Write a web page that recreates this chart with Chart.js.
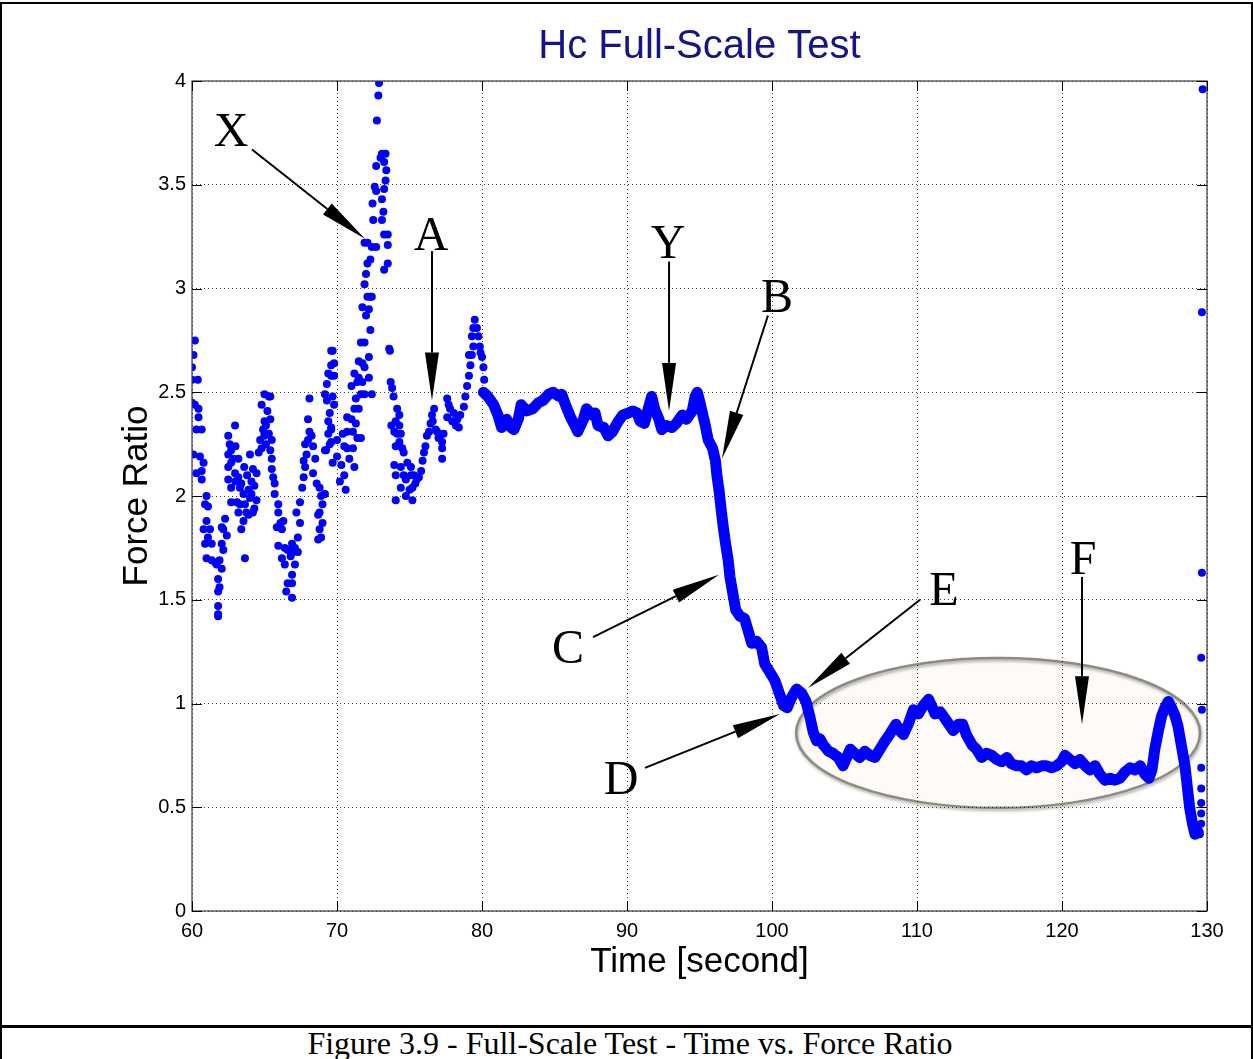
<!DOCTYPE html>
<html>
<head>
<meta charset="utf-8">
<script src="https://cdn.jsdelivr.net/npm/chart.js@4.4.1/dist/chart.umd.min.js"></script>
<style>
body { margin: 0; background: #fff; }
#page { position: relative; width: 1253px; height: 1059px; overflow: hidden; }
#frame { position: absolute; left: 0; top: 2px; width: 1249px; height: 1021px; border: 2px solid #000; border-bottom-width: 3px; }
#capbox { position: absolute; left: 0; top: 1026px; width: 1249px; height: 40px; border-left: 2px solid #000; border-right: 2px solid #000; }
#caption { position: absolute; left: 0; top: 1025px; width: 1260px; text-align: center; font: 32px "Liberation Serif", "Times New Roman", serif; line-height: 36px; }
#cv { position: absolute; left: 0; top: 0; }
</style>
</head>
<body>
<div id="page">
  <div id="frame"></div>
  <div id="capbox"></div>
  <canvas id="cv" width="1253" height="1025"></canvas>
  <div id="caption">Figure 3.9 - Full-Scale Test - Time vs. Force Ratio</div>
</div>
<script>
// tick values
const timeTicks = [60, 70, 80, 90, 100, 110, 120, 130];
const ratioTicks = [0, 0.5, 1, 1.5, 2, 2.5, 3, 3.5, 4];

// scattered samples 60 - 80 s  [time, force ratio]
const noisyPoints = [
 [60.2,2.75],[60.1,2.68],[60.0,2.62],[60.0,2.56],[60.4,2.56],[60.0,2.45],[60.2,2.44],[60.45,2.42],[60.45,2.38],[60.3,2.32],
 [60.67,2.32],[60.1,2.20],[60.55,2.19],[60.8,2.16],[60.3,2.11],[60.67,2.12],[60.67,2.08],
 [61.0,2.00],[60.9,1.96],[61.1,1.95],[61.0,1.88],[60.8,1.84],[61.24,1.84],[61.1,1.80],[61.36,1.77],[60.9,1.77],[61.0,1.70],
 [61.36,1.69],[61.6,1.68],[61.7,1.67],[61.8,1.60],[61.9,1.56],[61.8,1.54],[61.8,1.47],[61.8,1.43],[61.8,1.42],[62.05,1.65],
 [61.9,1.69],[62.16,1.74],[62.05,1.77],[62.4,1.81],[62.05,1.85],[62.28,1.89],[62.16,1.84],
 [62.5,2.29],[62.97,2.34],[62.7,2.22],[62.5,2.20],[62.85,2.18],[62.5,2.14],[62.7,2.16],[62.97,2.11],[62.5,2.08],[63.2,2.09],
 [63.0,2.07],[62.7,2.04],[63.3,2.04],[63.4,2.06],[63.55,2.01],[63.1,1.97],[63.3,1.96],[62.7,1.97],[63.65,1.96],[63.2,1.92],
 [63.75,1.92],[63.55,1.88],[63.4,1.84],[63.65,1.70],[64.0,2.20],[64.2,2.13],[64.45,2.11],[64.1,2.07],[64.3,2.05],[64.1,2.01],
 [64.45,1.98],[64.3,1.94],[63.9,1.91],[64.2,1.92],[62.6,2.25],[63.0,2.24],[63.2,2.18],[63.6,2.14],[63.8,2.10],[63.9,2.03],[64.0,1.99],
 [64.6,2.21],[64.8,2.23],[64.7,2.27],[65.0,2.29],[64.9,2.32],[65.1,2.34],[65.0,2.36],[65.3,2.30],[65.5,2.27],[65.1,2.25],
 [64.8,2.44],[65.0,2.49],[65.3,2.48],[65.4,2.48],[65.2,2.41],[65.4,2.37],[65.0,2.30],
 [65.4,2.22],[65.5,2.18],[65.5,2.13],[65.6,2.09],[65.7,2.06],[65.7,2.01],[65.95,1.96],[65.95,1.92],[66.1,1.87],[66.3,1.88],
 [65.85,1.85],[66.2,1.84],[65.95,1.76],[66.4,1.75],[66.2,1.70],[66.4,1.67],[66.6,1.74],[66.9,1.77],[67.1,1.75],[66.8,1.71],
 [67.0,1.73],[66.6,1.58],[66.9,1.58],[66.5,1.54],[66.9,1.51],[66.9,1.62],[67.1,1.67],[67.3,1.73],
 [67.3,1.80],[67.45,1.87],[67.2,1.92],[67.45,1.97],[67.6,2.04],[67.7,2.09],[67.8,2.14],[67.7,2.17],[67.9,2.20],[67.8,2.25],
 [68.0,2.27],[68.1,2.31],[68.0,2.37],[68.25,2.29],[68.1,2.47],
 [68.35,2.24],[68.5,2.18],[68.35,2.11],[68.6,2.06],[68.8,2.04],[68.9,2.00],[69.0,1.96],[68.8,1.92],[68.7,1.91],[69.0,1.87],
 [68.8,1.84],[68.7,1.79],[68.9,1.80],
 [69.17,2.01],[69.17,2.49],[69.3,2.54],[69.4,2.59],[69.6,2.58],[69.6,2.63],[69.6,2.70],[69.3,2.46],[69.5,2.40],[69.4,2.36],
 [69.6,2.32],[69.4,2.30],[69.17,2.22],[69.7,2.16],[69.5,2.25],[69.8,2.58],[69.8,2.44],[69.6,2.33],[69.25,2.22],[69.6,2.26],
 [69.7,2.70],[69.8,2.64],[69.7,2.48],
 [70.0,2.19],[70.3,2.15],[70.5,2.10],[70.6,2.03],[70.2,2.07],[70.0,2.27],[70.4,2.30],[70.7,2.23],[70.7,2.31],[70.5,2.24],
 [71.1,2.31],[71.1,2.23],[70.85,2.18],[71.2,2.14],[71.0,2.37],[70.7,2.38],[71.2,2.42],[71.3,2.35],[71.4,2.28],[71.65,2.28],
 [71.5,2.42],[71.3,2.47],[71.0,2.53],[71.4,2.55],[71.5,2.57],[71.75,2.64],[71.5,2.65],[71.9,2.62],[71.9,2.49],[71.75,2.55],
 [71.65,2.74],[71.9,2.74],[72.0,2.87],[71.75,2.91],[72.2,2.90],[72.1,2.96],[71.9,3.02],[72.0,3.07],[72.1,3.12],[72.3,3.14],
 [71.9,3.22],[72.1,3.22],[72.4,3.20],[72.7,3.20],[72.3,2.80],[72.4,2.96],[72.3,2.96],[72.2,2.67],[72.2,2.57],[72.4,2.49],
 [71.65,2.49],[71.2,2.59],
 [72.5,3.33],[72.45,3.41],[72.7,3.47],[72.6,3.49],[72.7,3.59],[73.0,3.63],[73.1,3.65],[73.35,3.65],[73.25,3.61],[73.4,3.57],
 [73.35,3.52],[73.25,3.48],[73.1,3.43],[73.2,3.37],[73.1,3.33],[73.25,3.26],[73.5,3.26],[73.5,3.21],[73.5,3.12],[73.25,3.09],
 [72.75,3.81],[72.85,3.93],[72.9,3.99],
 [73.6,2.71],[73.65,2.70],[73.7,2.55],[73.8,2.52],[73.9,2.48],[74.15,2.42],[74.3,2.39],[74.05,2.36],[74.3,2.34],[73.75,2.34],
 [73.95,2.31],[74.15,2.30],[74.4,2.30],[74.05,2.24],[74.3,2.26],[74.5,2.23],[74.6,2.21],[73.95,2.15],[74.4,2.14],[74.05,2.10],
 [74.05,1.98],[74.4,2.04],[74.85,2.16],[75.1,2.14],[74.6,2.10],[74.75,2.08],[75.1,2.10],[75.3,2.10],[75.4,2.06],[75.2,2.04],
 [75.0,2.03],[74.75,2.00],[75.2,1.98],[75.5,2.08],[75.65,2.09],[75.8,2.12],
 [75.9,2.17],[76.0,2.21],[76.1,2.24],[76.2,2.29],[76.35,2.31],[76.45,2.35],[76.55,2.39],[76.7,2.42],[76.6,2.36],[76.8,2.32],
 [76.9,2.31],[77.1,2.29],[77.25,2.26],[77.35,2.30],[77.25,2.23],[77.25,2.18],[77.0,2.28],
 [77.6,2.47],[77.7,2.44],[77.6,2.38],[77.95,2.36],[78.2,2.34],[78.3,2.37],[78.5,2.39],[78.4,2.33],[77.8,2.42],[78.05,2.40],
 [78.75,2.43],[78.85,2.48],[78.97,2.53],[79.1,2.58],[79.2,2.63],[79.1,2.68],[79.3,2.77],[79.4,2.81],[79.5,2.85],[79.65,2.81],
 [79.75,2.77],[79.85,2.72],[80.0,2.67],[79.9,2.69],[80.1,2.62],[80.15,2.56],[79.4,2.72],[79.3,2.68]
];

// dense trace 80 - 129.4 s, drawn as a thick line
const tracePoints = [
 [80.1,2.50],[80.4,2.48],[80.8,2.44],[81.1,2.39],[81.35,2.33],[81.7,2.37],[82.0,2.33],[82.2,2.32],[82.5,2.37],[82.7,2.44],
 [83.1,2.41],[83.5,2.42],[83.9,2.45],[84.2,2.46],[84.6,2.49],[84.9,2.50],[85.3,2.48],[85.5,2.49],[85.7,2.45],[86.1,2.38],
 [86.4,2.34],[86.6,2.31],[87.0,2.37],[87.2,2.42],[87.6,2.39],[87.8,2.40],[88.0,2.34],[88.4,2.33],[88.7,2.29],[89.0,2.31],
 [89.4,2.36],[89.7,2.39],[90.1,2.40],[90.4,2.41],[90.7,2.40],[90.9,2.36],[91.2,2.35],[91.5,2.43],[91.7,2.48],[91.9,2.42],
 [92.2,2.37],[92.4,2.32],[92.7,2.34],[93.1,2.33],[93.4,2.35],[93.8,2.39],[94.1,2.37],[94.5,2.41],[94.7,2.48],[94.85,2.50],
 [95.0,2.46],[95.2,2.40],[95.4,2.34],[95.6,2.27],[95.9,2.23],[96.1,2.17],[96.2,2.10],[96.36,2.02],[96.5,1.93],[96.64,1.85],
 [96.8,1.77],[96.98,1.69],[97.1,1.61],[97.3,1.53],[97.5,1.45],[97.8,1.42],[98.1,1.41],[98.36,1.35],[98.6,1.29],[98.94,1.30],
 [99.28,1.27],[99.5,1.19],[99.86,1.15],[100.2,1.11],[100.5,1.05],[100.8,0.99],[101.05,0.98],[101.35,1.03],[101.7,1.07],[102.04,1.05],
 [102.34,1.01],[102.6,0.94],[102.85,0.86],[103.08,0.82],[103.3,0.83],[103.54,0.80],[103.9,0.77],[104.2,0.76],[104.57,0.74],[104.9,0.70],
 [105.15,0.74],[105.4,0.78],[105.7,0.76],[106.05,0.74],[106.4,0.77],[106.75,0.75],[107.1,0.74],[107.45,0.78],[107.8,0.82],[108.1,0.85],
 [108.55,0.90],[108.8,0.87],[109.06,0.85],[109.4,0.90],[109.75,0.97],[110.1,0.95],[110.43,0.99],[110.8,1.02],[111.0,0.99],[111.24,0.95],
 [111.6,0.96],[111.8,0.94],[112.2,0.90],[112.5,0.87],[112.85,0.90],[113.15,0.90],[113.4,0.85],[113.8,0.80],[114.1,0.78],[114.46,0.74],
 [114.8,0.76],[115.15,0.75],[115.5,0.73],[115.84,0.72],[116.2,0.74],[116.5,0.71],[116.87,0.70],[117.2,0.70],[117.56,0.68],[117.9,0.70],
 [118.25,0.69],[118.6,0.70],[118.94,0.70],[119.3,0.69],[119.63,0.70],[119.97,0.72],[120.2,0.75],[120.55,0.73],[120.9,0.71],[121.24,0.73],
 [121.6,0.70],[121.93,0.68],[122.28,0.70],[122.6,0.66],[122.96,0.63],[123.3,0.64],[123.65,0.63],[124.0,0.64],[124.34,0.67],[124.7,0.69],
 [125.03,0.68],[125.4,0.70],[125.7,0.66],[126.0,0.64],[126.2,0.68],[126.4,0.78],[126.65,0.87],[126.87,0.94],[127.1,0.98],[127.33,1.01],
 [127.56,0.98],[127.8,0.94],[128.0,0.89],[128.25,0.79],[128.48,0.70],[128.64,0.60],[128.8,0.50],[129.0,0.42],[129.17,0.37],[129.4,0.38]
];

// lone points at the right edge
const edgePoints = [
 [129.7,3.96],[129.65,2.885],[129.65,1.63],[129.6,1.22],[129.65,0.97],[129.6,0.69],[129.6,0.59],[129.6,0.52],[129.6,0.47],[129.6,0.42],[129.5,0.37]
];

// letter callouts: text spot, arrow tail, arrow tip (data units)
const callouts = [
 {txt:"X", at:[62.69,3.76], from:[64.14,3.67], to:[71.93,3.24]},
 {txt:"A", at:[76.48,3.26], from:[76.55,3.18], to:[76.55,2.46]},
 {txt:"Y", at:[92.83,3.22], from:[92.90,3.13], to:[92.90,2.41]},
 {txt:"B", at:[100.34,2.96], from:[99.72,2.87], to:[96.55,2.18]},
 {txt:"C", at:[85.93,1.27], from:[87.66,1.32], to:[96.34,1.62]},
 {txt:"D", at:[89.59,0.64], from:[91.24,0.69], to:[100.55,0.95]},
 {txt:"E", at:[111.86,1.55], from:[110.21,1.50], to:[102.48,1.075]},
 {txt:"F", at:[121.45,1.70], from:[121.38,1.61], to:[121.38,0.90]}
];
const ringCenter = [115.59, 0.858];
const ringRadius = [13.93, 0.361];

function toXY(list)
{
    return list.map(p => ({x: p[0], y: p[1]}));
}

function drawArrow(ctx, x1, y1, x2, y2)
{
    let ang = Math.atan2(y2 - y1, x2 - x1);
    let headLen = 48, headW = 7;
    let bx = x2 - Math.cos(ang) * headLen, by = y2 - Math.sin(ang) * headLen;
    ctx.strokeStyle = "#000";
    ctx.lineWidth = 2;
    ctx.beginPath();
    ctx.moveTo(x1, y1);
    ctx.lineTo(bx, by);
    ctx.stroke();
    ctx.fillStyle = "#000";
    ctx.beginPath();
    ctx.moveTo(x2, y2);
    ctx.lineTo(bx + Math.sin(ang) * headW, by - Math.cos(ang) * headW);
    ctx.lineTo(bx - Math.sin(ang) * headW, by + Math.cos(ang) * headW);
    ctx.closePath();
    ctx.fill();
}

//ellipse behind the grid, everything else on top
const decorPlugin = {
    id: "decor",
    beforeDraw(chart)
    {
        const ctx = chart.ctx, xs = chart.scales.x, ys = chart.scales.y;
        let cx = xs.getPixelForValue(ringCenter[0]), cy = ys.getPixelForValue(ringCenter[1]);
        let rx = xs.getPixelForValue(ringCenter[0] + ringRadius[0]) - cx;
        let ry = cy - ys.getPixelForValue(ringCenter[1] + ringRadius[1]);
        ctx.save();
        ctx.beginPath();
        ctx.ellipse(cx, cy, rx, ry, 0, 0, Math.PI * 2);
        ctx.fillStyle = "#fdfaf8";
        ctx.fill();
        ctx.shadowColor = "rgba(60,60,50,0.45)";
        ctx.shadowBlur = 3;
        ctx.shadowOffsetX = 1;
        ctx.shadowOffsetY = 2;
        ctx.strokeStyle = "#8c8b82";
        ctx.lineWidth = 2.5;
        ctx.stroke();
        ctx.restore();
    },
    afterDraw(chart)
    {
        const ctx = chart.ctx, xs = chart.scales.x, ys = chart.scales.y, a = chart.chartArea;
        ctx.save();
        // axes box + inward ticks
        ctx.strokeStyle = "#3a3a3a";
        ctx.lineWidth = 1.2;
        ctx.strokeRect(a.left, a.top, a.right - a.left, a.bottom - a.top);
        ctx.strokeStyle = "#000";
        ctx.lineWidth = 1;
        ctx.beginPath();
        timeTicks.forEach(t => {
            let px = Math.round(xs.getPixelForValue(t)) + 0.5;
            ctx.moveTo(px, a.bottom); ctx.lineTo(px, a.bottom - 10);
            ctx.moveTo(px, a.top); ctx.lineTo(px, a.top + 10);
        });
        ratioTicks.forEach(f => {
            let py = Math.round(ys.getPixelForValue(f)) + 0.5;
            ctx.moveTo(a.left, py); ctx.lineTo(a.left + 10, py);
            ctx.moveTo(a.right, py); ctx.lineTo(a.right - 10, py);
        });
        ctx.stroke();

        // callouts
        callouts.forEach(c => {
            drawArrow(ctx, xs.getPixelForValue(c.from[0]), ys.getPixelForValue(c.from[1]),
                           xs.getPixelForValue(c.to[0]), ys.getPixelForValue(c.to[1]));
            ctx.fillStyle = "#000";
            ctx.font = '48px "Liberation Serif", "Times New Roman", serif';
            ctx.textAlign = "center";
            ctx.textBaseline = "middle";
            ctx.fillText(c.txt, xs.getPixelForValue(c.at[0]), ys.getPixelForValue(c.at[1]) + 3);
        });

        // titles
        ctx.fillStyle = "#14148c";
        ctx.font = '40px "Liberation Sans", Arial, sans-serif';
        ctx.textAlign = "center";
        ctx.textBaseline = "middle";
        ctx.fillText("Hc Full-Scale Test", (a.left + a.right) / 2, 47);
        ctx.fillStyle = "#000";
        ctx.font = '35px "Liberation Sans", Arial, sans-serif';
        ctx.fillText("Time [second]", (a.left + a.right) / 2, 962);
        ctx.translate(137, (a.top + a.bottom) / 2);
        ctx.rotate(-Math.PI / 2);
        ctx.fillText("Force Ratio", 0, 0);
        ctx.restore();
    }
};

function makeChart()
{
    const tickFont = {family: '"Liberation Sans", Arial, sans-serif', size: 20};
    new Chart(document.getElementById("cv").getContext("2d"), {
        type: "scatter",
        data: {
            datasets: [
                {label: "scatter", data: toXY(noisyPoints), pointRadius: 4, pointBackgroundColor: "#0000ff", pointBorderWidth: 0, showLine: false},
                {label: "trace", data: toXY(tracePoints), showLine: true, borderColor: "#0000ff", borderWidth: 11,
                 borderJoinStyle: "round", borderCapStyle: "round", pointRadius: 0, tension: 0},
                {label: "edge", data: toXY(edgePoints), pointRadius: 4, pointBackgroundColor: "#0000ff", pointBorderWidth: 0, showLine: false}
            ]
        },
        options: {
            responsive: false,
            animation: false,
            layout: {padding: {top: 81, right: 46, left: 0, bottom: 0}},
            plugins: {legend: {display: false}, tooltip: {enabled: false}, title: {display: false}},
            scales: {
                x: {
                    type: "linear", min: 60, max: 130,
                    afterBuildTicks: s => { s.ticks = timeTicks.map(v => ({value: v})); },
                    afterFit: s => { s.height = 114; },
                    ticks: {font: tickFont, color: "#000", padding: 8, maxRotation: 0, callback: v => String(v)},
                    grid: {color: "rgba(0,0,0,0.75)", lineWidth: 1, drawTicks: false},
                    border: {display: false, dash: [1, 3]}
                },
                y: {
                    type: "linear", min: 0, max: 4,
                    afterBuildTicks: s => { s.ticks = ratioTicks.map(v => ({value: v})); },
                    afterFit: s => { s.width = 192; },
                    ticks: {font: tickFont, color: "#000", padding: 6, callback: v => String(v)},
                    grid: {color: "rgba(0,0,0,0.75)", lineWidth: 1, drawTicks: false},
                    border: {display: false, dash: [1, 3]}
                }
            }
        },
        plugins: [decorPlugin]
    });
}

makeChart();
</script>
</body>
</html>
